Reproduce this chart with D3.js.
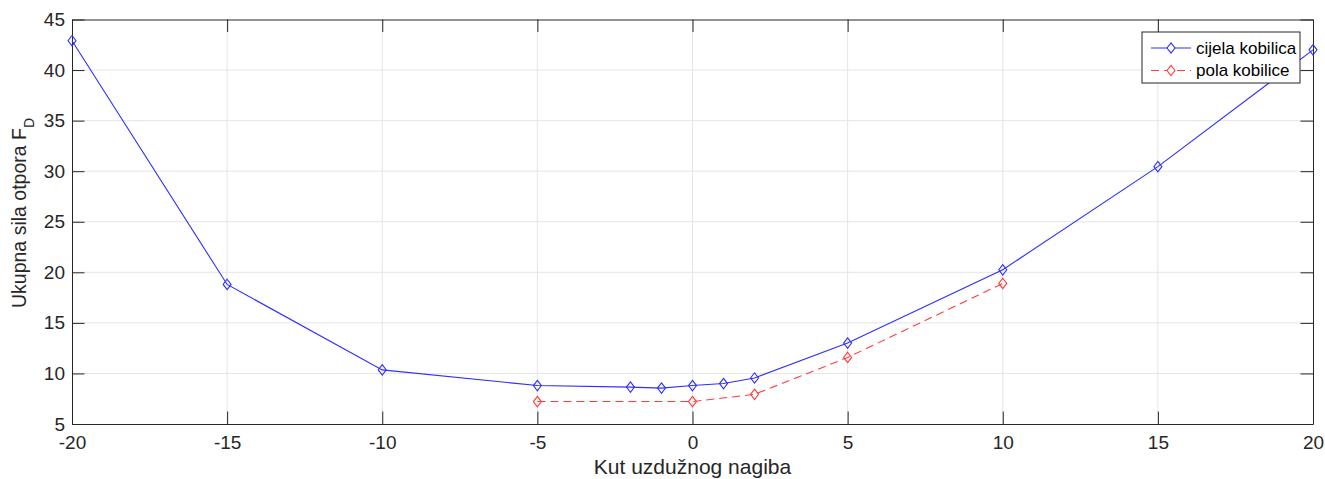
<!DOCTYPE html>
<html>
<head>
<meta charset="utf-8">
<script src="https://cdn.jsdelivr.net/npm/d3@7"></script>
<style>
  body { margin: 0; background: #fff; }
  svg { display: block; font-family: "Liberation Sans", Arial, sans-serif; }
</style>
</head>
<body>
<script>
// Data
const xTicks = [-20, -15, -10, -5, 0, 5, 10, 15, 20];
const yTicks = [5, 10, 15, 20, 25, 30, 35, 40, 45];

const cijelaAngle = [-20, -15, -10, -5, -2, -1, 0, 1, 2, 5, 10, 15, 20];
const cijelaForce = [42.9, 18.8, 10.35, 8.8, 8.65, 8.55, 8.8, 9.0, 9.55, 13.0, 20.25, 30.45, 42.0];

const polaAngle = [-5, 0, 2, 5, 10];
const polaForce = [7.22, 7.22, 7.93, 11.58, 18.9];

const seriesNames = ["cijela kobilica", "pola kobilice"];

const width = 1325;
const height = 479;
const margin = {top: 19.5, right: 12, bottom: 55, left: 72};

const axisColor = "#262626";
const gridColor = "#e5e5e5";
const tickLen = 12.5;
const fontSize = 19;

const x = d3.scaleLinear([-20, 20], [margin.left, width - margin.right]);
const y = d3.scaleLinear([5, 45], [height - margin.bottom, margin.top]);

// MATLAB style labels use a plain hyphen
const fmt = d => String(d);

const svg = d3.select("body").append("svg")
    .attr("width", width)
    .attr("height", height);

// grid
svg.append("g")
    .selectAll("line")
    .data(xTicks.slice(1, -1))
    .join("line")
    .attr("x1", d => x(d)).attr("x2", d => x(d))
    .attr("y1", y(5)).attr("y2", y(45))
    .attr("stroke", gridColor);
svg.append("g")
    .selectAll("line")
    .data(yTicks.slice(1, -1))
    .join("line")
    .attr("x1", x(-20)).attr("x2", x(20))
    .attr("y1", d => y(d)).attr("y2", d => y(d))
    .attr("stroke", gridColor);

// axes: bottom/left with labels, top/right without (inward ticks)
const gx = svg.append("g")
    .attr("transform", `translate(0,${y(5)})`)
    .call(d3.axisBottom(x).tickValues(xTicks).tickFormat(fmt).tickSizeInner(-tickLen).tickSizeOuter(0).tickPadding(12));
const gxTop = svg.append("g")
    .attr("transform", `translate(0,${y(45)})`)
    .call(d3.axisTop(x).tickValues(xTicks).tickSizeInner(-tickLen).tickSizeOuter(0).tickFormat(""));
const gy = svg.append("g")
    .attr("transform", `translate(${x(-20)},0)`)
    .call(d3.axisLeft(y).tickValues(yTicks).tickFormat(fmt).tickSizeInner(-tickLen).tickSizeOuter(0).tickPadding(7));
const gyRight = svg.append("g")
    .attr("transform", `translate(${x(20)},0)`)
    .call(d3.axisRight(y).tickValues(yTicks).tickSizeInner(-tickLen).tickSizeOuter(0).tickFormat(""));

[gx, gxTop, gy, gyRight].forEach(g => {
    g.select(".domain").attr("stroke", axisColor);
    g.selectAll(".tick line").attr("stroke", axisColor);
    g.selectAll(".tick text")
        .attr("fill", axisColor)
        .style("font-size", fontSize + "px")
        .style("font-family", "'Liberation Sans', Arial, sans-serif");
});

// axis titles
svg.append("text")
    .attr("x", (x(-20) + x(20)) / 2)
    .attr("y", 474)
    .attr("text-anchor", "middle")
    .attr("fill", axisColor)
    .style("font-size", "21px")
    .text("Kut uzdužnog nagiba");

const yLabel = svg.append("text")
    .attr("transform", "translate(26,308) rotate(-90)")
    .attr("text-anchor", "start")
    .attr("fill", axisColor)
    .style("font-size", "19.5px");
yLabel.append("tspan").text("Ukupna sila otpora F");
yLabel.append("tspan").attr("dy", 8).style("font-size", "14px").text("D");

// lines
const diamond = "M0,-5.2L4,0L0,5.2L-4,0Z";

function drawSeries(xs, ys, color, dash) {
    const pts = xs.map((d, i) => [d, ys[i]]);
    const line = d3.line().x(d => x(d[0])).y(d => y(d[1]));
    svg.append("path")
        .datum(pts)
        .attr("d", line)
        .attr("fill", "none")
        .attr("stroke", color)
        .attr("stroke-width", 1.1)
        .attr("stroke-dasharray", dash);
    svg.append("g")
        .selectAll("path")
        .data(pts)
        .join("path")
        .attr("transform", d => `translate(${x(d[0])},${y(d[1])})`)
        .attr("d", diamond)
        .attr("fill", "none")
        .attr("stroke", color)
        .attr("stroke-width", 1.1);
}

const blue = "#2e2eff";
const red = "#ff3b3b";

drawSeries(cijelaAngle, cijelaForce, blue, null);
drawSeries(polaAngle, polaForce, red, "8,5");

// legend
const legend = svg.append("g").attr("transform", "translate(1142,32)");
legend.append("rect")
    .attr("width", 158).attr("height", 51)
    .attr("fill", "#fff")
    .attr("stroke", axisColor);

const legendColors = [blue, red];
const legendDash = [null, "8,5"];
seriesNames.forEach((name, i) => {
    const row = legend.append("g").attr("transform", `translate(0,${16 + i * 22.5})`);
    row.append("line")
        .attr("x1", 9).attr("x2", 49)
        .attr("stroke", legendColors[i])
        .attr("stroke-width", 1.1)
        .attr("stroke-dasharray", legendDash[i]);
    row.append("path")
        .attr("transform", "translate(29,0)")
        .attr("d", diamond)
        .attr("fill", "#fff")
        .attr("stroke", legendColors[i])
        .attr("stroke-width", 1.1);
    row.append("text")
        .attr("x", 54)
        .attr("dy", "0.35em")
        .attr("fill", "#000")
        .style("font-size", "17px")
        .text(name);
});
</script>
</body>
</html>
